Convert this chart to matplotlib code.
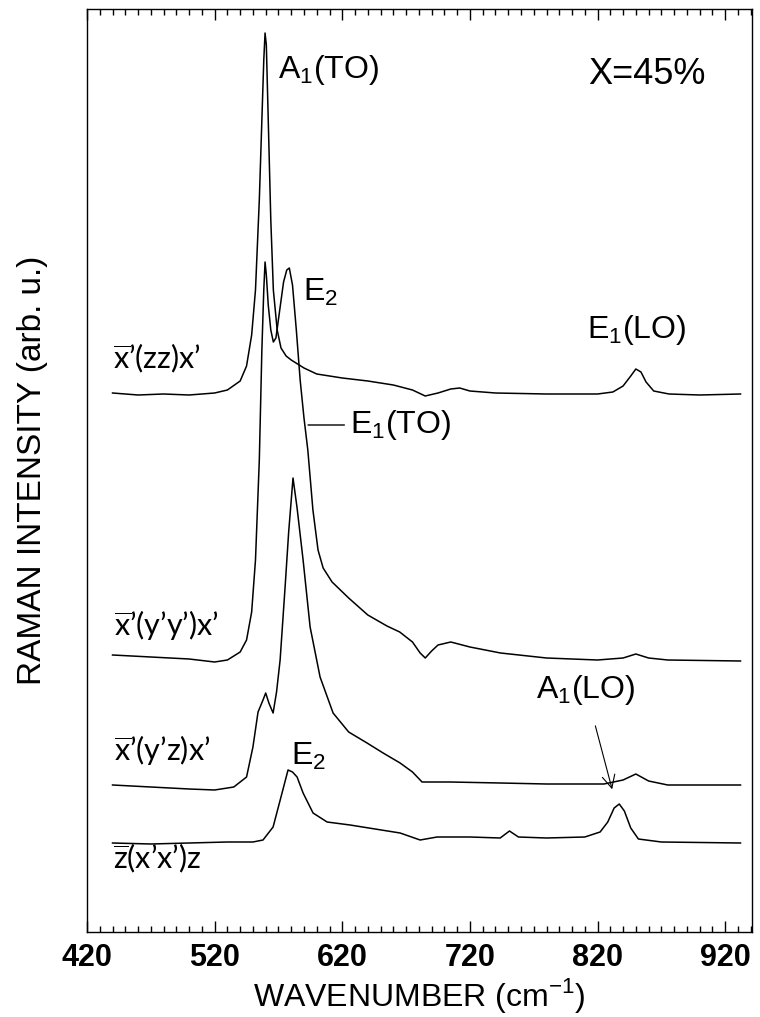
import numpy as np
import matplotlib.pyplot as plt
from matplotlib.ticker import MultipleLocator

plt.rcParams['font.family'] = ['Liberation Sans', 'DejaVu Sans']
plt.rcParams['mathtext.fontset'] = 'custom'
plt.rcParams['mathtext.rm'] = 'Liberation Sans'
plt.rcParams['mathtext.sf'] = 'Lato'

# spectra (wavenumber in cm-1, stacked intensity in arb. u.)
w_zz = [440, 460, 480, 500, 520, 530, 540, 545, 549, 552, 555, 557, 558.5, 559.5, 560.5,
        562, 564, 566, 569, 572, 576, 580, 585, 590, 600, 620, 640, 660, 675, 685, 695,
        705, 712, 720, 740, 780, 820, 832, 840, 846, 850, 854, 858, 864, 876, 900, 932]
i_zz = [539, 537, 538, 537, 539, 542, 551, 566, 597, 642, 732, 812, 872, 899, 887,
        812, 712, 642, 602, 584, 576, 572, 568, 564, 558, 554, 551, 547, 542, 536, 539,
        543, 544, 541, 539, 538, 538, 540, 546, 556, 563, 560, 550, 541, 538, 537, 538]

w_yy = [440, 470, 500, 520, 530, 540, 545, 549, 552, 555, 557, 558.5, 559.5, 560.5, 562,
        564, 566, 568, 571, 574, 576.5, 578.5, 581, 584, 587, 590, 593, 597, 601, 605,
        612, 625, 640, 655, 665, 675, 681, 685, 690, 695, 705, 720, 744, 780, 820, 840,
        850, 860, 875, 932]
i_yy = [277, 275, 273, 270, 272, 280, 292, 320, 372, 472, 582, 642, 670, 657, 627,
        602, 590, 594, 622, 650, 662, 664, 647, 602, 552, 514, 482, 422, 382, 364,
        350, 334, 317, 306, 300, 290, 279, 274, 281, 287, 290, 285, 279, 274, 272, 274,
        278, 274, 272, 271]

w_yz = [440, 470, 500, 520, 535, 545, 550, 554, 557.9, 560, 562.5, 565.8, 568.5, 571.3,
        575.2, 578, 581.4, 584.5, 589.3, 594.8, 602.6, 612.8, 625, 639.4, 652, 665.3,
        675, 682.5, 704.5, 743.7, 780, 825, 840, 850, 860, 875, 932]
i_yz = [147, 145, 143, 142, 145, 155, 185, 220, 232, 239, 229, 219, 240, 272,
        345, 400, 454, 425, 372, 305, 255, 219, 200, 189, 179, 169,
        160, 150, 150, 149, 148, 148, 152, 158, 151, 147, 147]

w_xx = [440, 470, 500, 530, 550, 557.9, 565.8, 572.8, 577.5, 581, 584.6, 589.3, 597.1,
        608.1, 626.1, 665.3, 681, 694.3, 720, 743.7, 751, 758, 780, 810, 822, 828, 833,
        837, 841, 846, 852, 870, 932]
i_xx = [89, 88, 89, 90, 90, 92, 105, 139, 162, 160, 155, 139, 119,
        110, 107, 99, 92, 95, 95, 94, 101, 95, 94, 95, 100, 110, 124,
        128, 121, 104, 93, 90, 89]

xticks = [420, 520, 620, 720, 820, 920]

fig = plt.figure(figsize=(7.6, 10.17), dpi=100)
ax = fig.add_axes([87 / 760, 1 - 932 / 1017, 665 / 760, 923 / 1017])

for w, y in [(w_zz, i_zz), (w_yy, i_yy), (w_yz, i_yz), (w_xx, i_xx)]:
    ax.plot(w, y, color='black', lw=1.1)

ax.set_xlim(420, 941)
ax.set_ylim(0, 923)
ax.set_xticks(xticks)
ax.xaxis.set_minor_locator(MultipleLocator(10))
ax.set_yticks([])
ax.tick_params(axis='x', which='both', direction='in', top=True, bottom=True)
ax.tick_params(axis='x', which='major', length=8, width=1, labelsize=22, pad=8)
ax.tick_params(axis='x', which='minor', length=4, width=1)
for lab in ax.get_xticklabels():
    lab.set_fontweight('bold')
for s in ax.spines.values():
    s.set_linewidth(1.0)

ax.set_xlabel('WAVENUMBER (cm$^{-1}$)', fontsize=23, labelpad=2)
ax.set_ylabel('RAMAN INTENSITY (arb. u.)', fontsize=24, labelpad=28)

fs = 23
ax.text(570, 862, 'A$_1$(TO)', fontsize=fs, va='center')
ax.text(813, 857, 'X=45%', fontsize=26, va='center')
ax.text(812, 602, 'E$_1$(LO)', fontsize=fs, va='center')
ax.text(589, 640, 'E$_2$', fontsize=fs, va='center')
ax.text(580, 176, 'E$_2$', fontsize=fs, va='center')
ax.annotate('E$_1$(TO)', xy=(591, 507), xytext=(626, 507), fontsize=fs, va='center',
            arrowprops=dict(arrowstyle='-', color='black', lw=1))
ax.annotate('A$_1$(LO)', xy=(832, 140), xytext=(772, 242), fontsize=fs, va='center',
            arrowprops=dict(arrowstyle='->', color='black', lw=0.8,
                            shrinkA=12, shrinkB=2))

lfs = 22
ax.text(440, 574, r'$\overline{\mathsf{x}}$’(zz)x’', fontsize=lfs, family='Lato', va='center')
ax.text(441, 307, r'$\overline{\mathsf{x}}$’(y’y’)x’', fontsize=lfs, family='Lato', va='center')
ax.text(441, 182, r'$\overline{\mathsf{x}}$’(y’z)x’', fontsize=lfs, family='Lato', va='center')
ax.text(440, 74, r'$\overline{\mathsf{z}}$(x’x’)z', fontsize=lfs, family='Lato', va='center')

fig.savefig('out.png', dpi=100)
